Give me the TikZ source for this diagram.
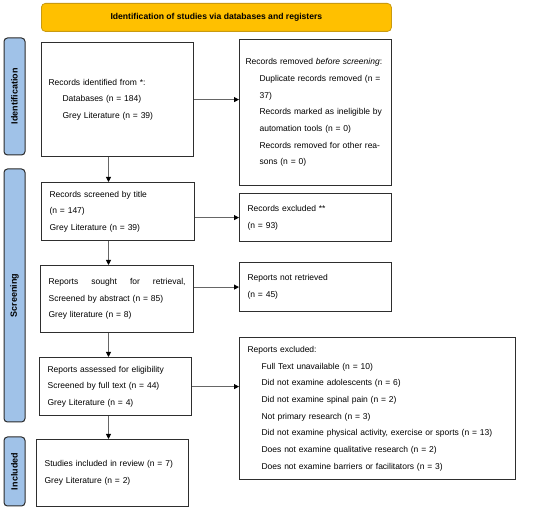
\documentclass[tikz,border=0pt]{standalone}
\usepackage{fontspec}
\setmainfont{Liberation Sans}
\usetikzlibrary{arrows.meta}
\definecolor{hdrfill}{HTML}{FFC000}
\definecolor{hdrdraw}{HTML}{C99A10}
\definecolor{sidefill}{HTML}{A0C2E8}
\definecolor{sidedraw}{HTML}{2B2B2B}
\definecolor{boxc}{HTML}{2E2E2E}
\definecolor{linec}{HTML}{666666}
\tikzset{
  box/.style={draw=boxc, line width=1.2pt, fill=white, inner xsep=7pt, inner ysep=0pt,
    align=left, anchor=north west, font=\fontsize{8.5}{16.7}\selectfont},
  side/.style={draw=sidedraw, line width=1pt, fill=sidefill, rounded corners=3.5pt,
    rotate=90, minimum height=21pt, inner sep=0pt, font=\bfseries\fontsize{9}{11}\selectfont},
  hdr/.style={draw=hdrdraw, line width=0.8pt, fill=hdrfill, rounded corners=4pt,
    anchor=north west, minimum width=350pt, minimum height=28pt, inner sep=0pt,
    font=\bfseries\fontsize{8.6}{10}\selectfont},
  arr/.style={draw=linec, line width=0.9pt, -{Triangle[length=5pt,width=5pt,color=black]}}
}
\newcommand{\ind}{\hspace*{14pt}}
\begin{document}
\begin{tikzpicture}[x=1pt,y=-1pt]
\useasboundingbox (0,0) rectangle (550,513);
% header
\node[hdr] (hdr) at (41,3) {Identification of studies via databases and registers};
% side labels
\node[side, minimum width=117pt] (sid) at (14.5,96.5) {Identification};
\node[side, minimum width=253pt] (ssc) at (14.5,295.5) {Screening};
\node[side, minimum width=69pt] (sin) at (14.5,471.5) {Included};
% boxes
\node[box, text width=138pt, minimum height=114pt] (b1) at (41,42)
  {Records identified from *:\\ \ind Databases (n = 184)\\ \ind Grey Literature (n = 39)};
\node[box, inner xsep=6pt, text width=140pt, minimum height=146pt] (b2) at (239,39)
  {Records removed \emph{before screening}:\\
   \ind Duplicate records removed (n =\\
   \ind 37)\\
   \ind Records marked as ineligible by\\
   \ind automation tools (n = 0)\\
   \ind Records removed for other rea-\\
   \ind sons (n = 0)};
\node[box, inner xsep=8pt, text width=137pt, minimum height=58pt] (b3) at (41,182)
  {Records screened by title\\ (n = 147)\\ Grey Literature (n = 39)};
\node[box, inner xsep=8pt, text width=136pt, minimum height=48pt] (b4) at (239,193)
  {Records excluded **\\ (n = 93)};
\node[box, inner xsep=8pt, text width=137pt, minimum height=67pt] (b5) at (40,265)
  {Reports\hfill sought\hfill for\hfill retrieval,\\ Screened by abstract (n = 85)\\ Grey literature (n = 8)};
\node[box, inner xsep=8pt, text width=136pt, minimum height=49pt] (b6) at (239,262)
  {Reports not retrieved\\ (n = 45)};
\node[box, inner xsep=8pt, text width=136pt, minimum height=58pt] (b7) at (39,357)
  {Reports assessed for eligibility\\ Screened by full text (n = 44)\\ Grey Literature (n = 4)};
\node[box, inner xsep=8pt, text width=260pt, minimum height=142pt] (b8) at (239,337)
  {Reports excluded:\\
   \ind Full Text unavailable (n = 10)\\
   \ind Did not examine adolescents (n = 6)\\
   \ind Did not examine spinal pain (n = 2)\\
   \ind Not primary research (n = 3)\\
   \ind Did not examine physical activity, exercise or sports (n = 13)\\
   \ind Does not examine qualitative research (n = 2)\\
   \ind Does not examine barriers or facilitators (n = 3)};
\node[box, inner xsep=8pt, text width=136pt, minimum height=67pt] (b9) at (36,439)
  {Studies included in review (n = 7)\\ Grey Literature (n = 2)};
% connectors
\coordinate (ax) at (108.5,0);
\draw[arr] (b1.south -| ax) -- (b3.north -| ax);
\draw[arr] (b3.south -| ax) -- (b5.north -| ax);
\draw[arr] (b5.south -| ax) -- (b7.north -| ax);
\draw[arr] (b7.south -| ax) -- (b9.north -| ax);
\draw[arr] (b1.east) -- (b1.east -| b2.west);
\draw[arr] (b3.east |- b4.west) -- (b4.west);
\draw[arr] (b5.east |- b6.west) -- (b6.west);
\draw[arr] (b7.east) -- (b7.east -| b8.west);
\end{tikzpicture}
\end{document}
